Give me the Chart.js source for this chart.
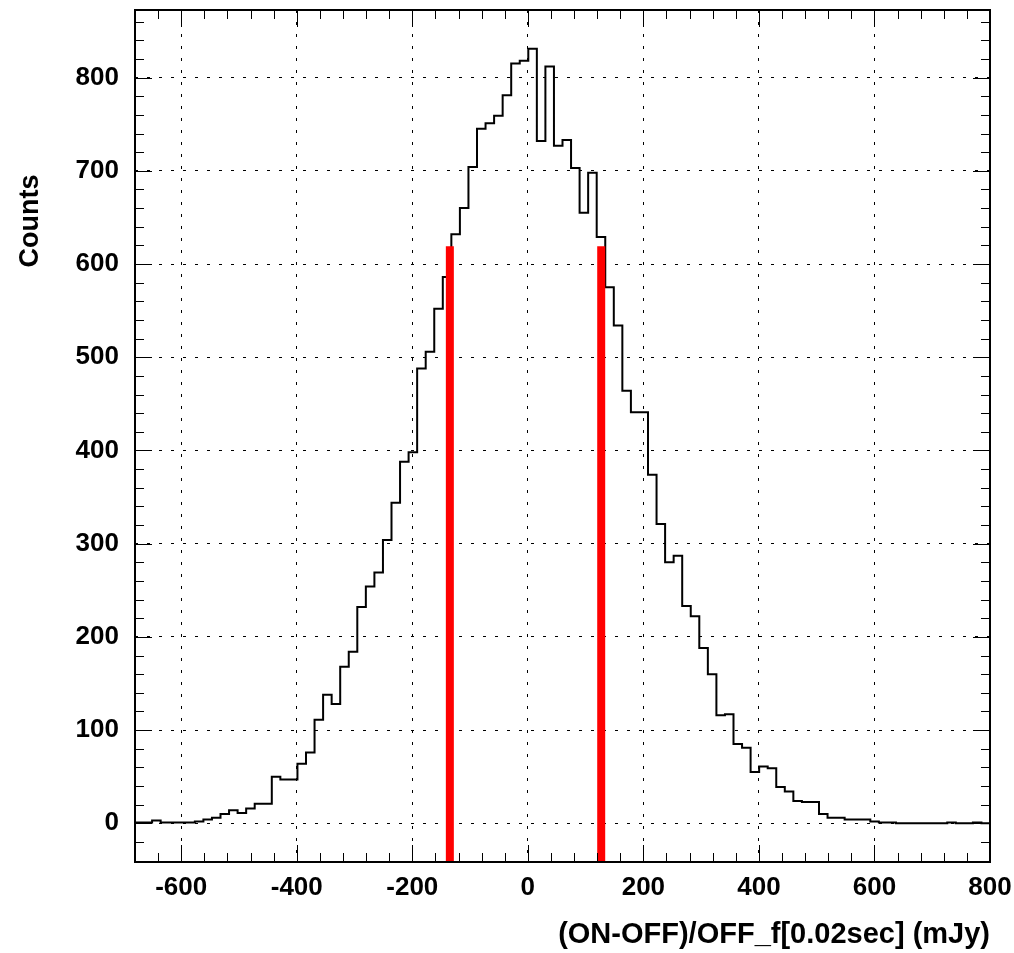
<!DOCTYPE html>
<html>
<head>
<meta charset="utf-8">
<script src="https://cdn.jsdelivr.net/npm/chart.js@4"></script>
<style>
  html, body { margin: 0; padding: 0; background: #fff; }
  #wrap { position: relative; width: 1014px; height: 953px; }
</style>
</head>
<body>
<div id="wrap"><canvas id="hist"></canvas></div>
<script>
// ============================================================
// (ON-OFF)/OFF histogram, 100 bins from -680 to 800 mJy
// ============================================================

const binLow   = -680;
const binHigh  = 800;
const counts = [
    1,   1,   3,   1,   1,   1,   1,   2,   4,   6,
   10,  14,  11,  16,  21,  21,  50,  47,  47,  64,
   76, 111, 138, 128, 168, 184, 232, 254, 269, 304,
  344, 388, 398, 488, 506, 552, 586, 632, 660, 704,
  745, 751, 759, 781, 815, 818, 831, 732, 812, 727,
  733, 703, 655, 698, 629, 575, 534, 464, 441, 441,
  374, 321, 280, 287, 233, 222, 188, 160, 116, 117,
   85,  81,  55,  61,  59,  39,  34,  24,  23,  23,
   10,   6,   6,   4,   4,   4,   2,   1,   1,   0,
    0,   0,   0,   0,   0,   1,   0,   0,   1,   0
];
const cutLines = [-135, 127];   // red markers (mJy)
const cutTop   = 619;           // height of the red markers

const xTickLabels = [-600, -400, -200, 0, 200, 400, 600, 800];
const yTickLabels = [0, 100, 200, 300, 400, 500, 600, 700, 800];
const xMinorStep  = 40;
const yMinorStep  = 20;
const yMin = -41.5;
const yMax = 872.5;

const FAMILY = '"Liberation Sans", Arial, Helvetica, sans-serif';

const binWidth = (binHigh - binLow) / counts.length;
const histPoints = counts.map((c, i) => ({ x: binLow + i * binWidth, y: c }));
histPoints.push({ x: binHigh, y: counts[counts.length - 1] });

// frame, inner tick marks (ROOT style) and the rotated y title
const rootFrame = {
  id: 'rootFrame',
  afterDatasetsDraw(chart) {
    const { ctx, chartArea: a, scales: { x, y } } = chart;
    ctx.save();
    ctx.strokeStyle = '#000';
    ctx.lineWidth = 1;
    ctx.beginPath();
    for (let v = Math.ceil(binLow / xMinorStep) * xMinorStep; v <= binHigh; v += xMinorStep) {
      const px = Math.round(x.getPixelForValue(v)) + 0.5;
      const len = v % 200 === 0 ? 17 : 9;
      ctx.moveTo(px, a.bottom); ctx.lineTo(px, a.bottom - len);
      ctx.moveTo(px, a.top);    ctx.lineTo(px, a.top + len);
    }
    for (let v = Math.ceil(yMin / yMinorStep) * yMinorStep; v <= yMax; v += yMinorStep) {
      const py = Math.round(y.getPixelForValue(v)) + 0.5;
      const len = v % 100 === 0 ? 17 : 9;
      ctx.moveTo(a.left, py);  ctx.lineTo(a.left + len, py);
      ctx.moveTo(a.right, py); ctx.lineTo(a.right - len, py);
    }
    ctx.stroke();
    ctx.lineWidth = 2;
    ctx.strokeRect(a.left, a.top, a.width, a.height);

    ctx.translate(31, 221);
    ctx.rotate(-Math.PI / 2);
    ctx.font = `bold 27px ${FAMILY}`;
    ctx.fillStyle = '#000';
    ctx.textAlign = 'center';
    ctx.textBaseline = 'middle';
    ctx.fillText('Counts', 0, 0);
    ctx.restore();
  }
};

const redLine = v => ({
  data: [{ x: v, y: yMin }, { x: v, y: cutTop }],
  borderColor: '#ff0000',
  borderWidth: 8,
  borderCapStyle: 'butt',
  pointRadius: 0,
  fill: false
});

new Chart(document.getElementById('hist').getContext('2d'), {
  type: 'line',
  data: {
    datasets: [
      ...cutLines.map(redLine),
      {
        data: histPoints,
        borderColor: '#000',
        borderWidth: 2,
        stepped: true,
        pointRadius: 0,
        fill: false
      }
    ]
  },
  options: {
    responsive: true,
    maintainAspectRatio: false,
    animation: false,
    layout: { padding: { top: 10, right: 24, left: 0, bottom: 0 } },
    plugins: { legend: { display: false }, tooltip: { enabled: false } },
    scales: {
      x: {
        type: 'linear',
        min: binLow,
        max: binHigh,
        afterBuildTicks: s => { s.ticks = xTickLabels.map(v => ({ value: v })); },
        afterFit: s => { s.height = 91; s.paddingLeft = 0; s.paddingRight = 0; },
        ticks: {
          color: '#000',
          padding: 10,
          maxRotation: 0,
          autoSkip: false,
          font: { family: FAMILY, size: 26, weight: 'bold' }
        },
        grid: { color: '#000', lineWidth: 1, drawTicks: false },
        border: { display: false, dash: [3, 9] },
        title: {
          display: true,
          text: '(ON-OFF)/OFF_f[0.02sec] (mJy)',
          align: 'end',
          color: '#000',
          padding: { top: 0, bottom: 1 },
          font: { family: FAMILY, size: 29, weight: 'bold' }
        }
      },
      y: {
        type: 'linear',
        min: yMin,
        max: yMax,
        afterBuildTicks: s => { s.ticks = yTickLabels.map(v => ({ value: v })); },
        afterFit: s => { s.width = 135; s.paddingTop = 0; s.paddingBottom = 0; },
        ticks: {
          color: '#000',
          padding: 16,
          autoSkip: false,
          font: { family: FAMILY, size: 26, weight: 'bold' }
        },
        grid: { color: '#000', lineWidth: 1, drawTicks: false },
        border: { display: false, dash: [3, 9] }
      }
    }
  },
  plugins: [rootFrame]
});
</script>
</body>
</html>
